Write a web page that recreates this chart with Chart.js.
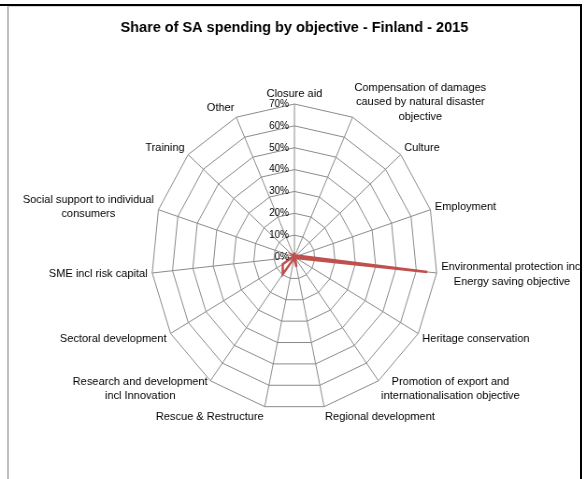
<!DOCTYPE html>
<html>
<head>
<meta charset="utf-8">
<script src="https://cdn.jsdelivr.net/npm/chart.js@4"></script>
<style>
  body { margin: 0; background: #fff; }
  #wrap { position: absolute; left: 0; top: 0; width: 580px; height: 479px; overflow: hidden; }
  #grafica { transform: scaleX(0.9346); transform-origin: 0 0; }
  #marco { position: absolute; left: 0; top: 4px; width: 580px; height: 480px; border-top: 2px solid #000; border-right: 2px solid #000; pointer-events: none; }
  #interior { position: absolute; left: 7px; top: 6px; width: 573px; height: 480px; border-left: 2px solid #c0c0c0; border-top: 1px solid #d4d4d4; pointer-events: none; }
</style>
</head>
<body>
<div id="wrap"><canvas id="grafica" width="627" height="479"></canvas></div>
<div id="interior"></div>
<div id="marco"></div>
<script>
const titulo = 'Share of SA spending by objective - Finland - 2015';
const categorias = [
    'Closure aid',
    ['Compensation of damages', 'caused by natural disaster', 'objective'],
    'Culture',
    'Employment',
    ['Environmental protection incl', 'Energy saving objective'],
    'Heritage conservation',
    ['Promotion of export and', 'internationalisation objective'],
    'Regional development',
    'Rescue & Restructure',
    ['Research and development', 'incl Innovation'],
    'Sectoral development',
    'SME incl risk capital',
    ['Social support to individual', 'consumers'],
    'Training',
    'Other'
];
// share in %
const finland2015 = [2, 0, 1, 2, 65.4, 1, 0.5, 4.7, 0.5, 9.7, 6.6, 1, 0, 1, 0.5];
const valoresTicks = [0, 10, 20, 30, 40, 50, 60, 70];
const etiquetasTicks = ['0%', '10%', '20%', '30%', '40%', '50%', '60%', '70%'];

const textos = {
    id: 'textos',
    afterDraw(chart) {
        const escala = chart.scales.r;
        const ctx = chart.ctx;
        ctx.save();
        ctx.fillStyle = '#000';
        ctx.textBaseline = 'middle';

        // title
        ctx.font = 'bold 15.5px "Liberation Sans"';
        ctx.textAlign = 'center';
        ctx.fillText(titulo, escala.xCenter, 28);

        // tick labels, left of the vertical axis
        ctx.font = '10.5px "Liberation Sans"';
        ctx.textAlign = 'right';
        valoresTicks.forEach((v, i) => {
            const y = escala.yCenter - escala.getDistanceFromCenterForValue(v);
            ctx.fillText(etiquetasTicks[i], escala.xCenter - 6, y);
        });

        // category labels
        ctx.font = '11.8px "Liberation Sans"';
        ctx.textAlign = 'center';
        const linea = 14.5;
        categorias.forEach((etiqueta, i) => {
            const lineas = Array.isArray(etiqueta) ? etiqueta : [etiqueta];
            const ang = escala.getIndexAngle(i);
            const grados = Math.round(ang * 180 / Math.PI) % 360;
            const px = escala.getPointPosition(i, escala.drawingArea + 5).x;
            const py = escala.getPointPosition(i, escala.drawingArea).y;
            const alto = lineas.length * linea;
            const cy = py - Math.cos(ang) * Math.max(10, alto / 2 - 5);
            const ancho = Math.max(...lineas.map(t => ctx.measureText(t).width));
            let cx = px;
            if (grados > 0 && grados < 180) cx = px + ancho / 2;
            else if (grados > 180) cx = px - ancho / 2;
            lineas.forEach((t, j) => ctx.fillText(t, cx, cy - alto / 2 + linea / 2 + j * linea));
        });
        ctx.restore();
    }
};

new Chart(document.getElementById('grafica'), {
    type: 'radar',
    data: {
        labels: categorias,
        datasets: [{
            label: 'Finland',
            data: finland2015,
            borderColor: '#C0504D',
            borderWidth: 2.5,
            pointRadius: 0,
            fill: false,
            tension: 0
        }]
    },
    options: {
        responsive: false,
        animation: false,
        layout: {
            padding: { left: 162, right: 158, top: 104, bottom: 69 }
        },
        scales: {
            r: {
                min: 0,
                max: 70,
                ticks: { stepSize: 10, display: false },
                pointLabels: { display: false },
                grid: { color: '#8a8a8a', lineWidth: 1 },
                angleLines: { color: '#8a8a8a', lineWidth: 1 }
            }
        },
        plugins: {
            legend: { display: false },
            tooltip: { enabled: false },
            title: { display: false }
        }
    },
    plugins: [textos]
});
</script>
</body>
</html>
